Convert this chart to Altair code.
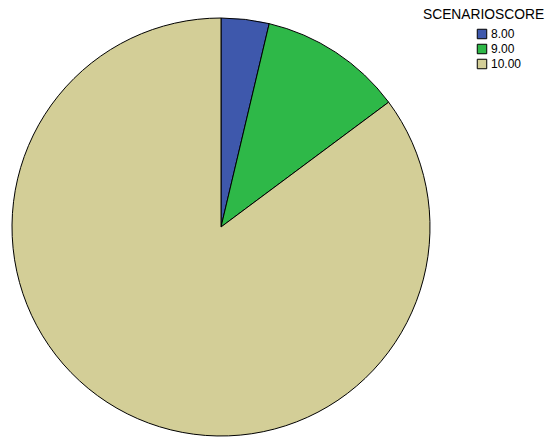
import altair as alt
import pandas as pd

categories = ["8.00", "9.00", "10.00"]
counts = [1, 3, 23]
colors = ["#3E58AC", "#2EB848", "#D3CE97"]
legend_title = "SCENARIOSCORE"

df = pd.DataFrame({"cat": categories, "count": counts, "order": [0, 1, 2]})

pie = alt.Chart(df).mark_arc(stroke="black", strokeWidth=1).encode(
    theta=alt.Theta("count:Q", stack=True),
    order=alt.Order("order:Q"),
    color=alt.Color(
        "cat:N",
        sort=categories,
        scale=alt.Scale(domain=categories, range=colors),
        legend=alt.Legend(
            title=None,
            orient="none",
            legendX=468,
            legendY=20,
            symbolType="square",
            symbolSize=90,
            symbolStrokeColor="black",
            symbolStrokeWidth=1,
            labelFont="Liberation Sans",
            labelFontSize=12,
            labelColor="black",
            rowPadding=1,
            labelOffset=3,
        ),
    ),
    x=alt.value(213),
    y=alt.value(219),
    radius=alt.value(209),
)

title = alt.Chart(pd.DataFrame({"t": [legend_title]})).mark_text(
    font="Liberation Sans", fontSize=13.8, align="left", baseline="alphabetic", color="black"
).encode(text="t:N", x=alt.value(415), y=alt.value(11))

chart = alt.layer(pie, title).properties(
    width=540, height=429, padding=0, autosize=alt.AutoSizeParams(type="none")
).configure_view(stroke=None)

chart.save("out.html", embed_options={"renderer": "svg", "actions": False})
